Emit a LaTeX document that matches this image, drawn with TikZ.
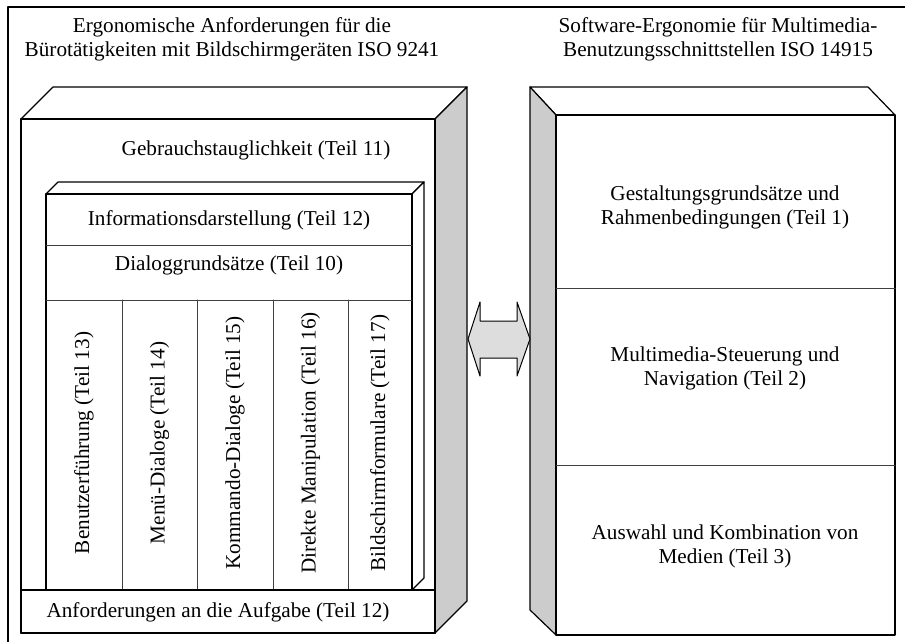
\documentclass[tikz,border=0pt]{standalone}
\usepackage{fontspec}
\setmainfont{Liberation Serif}
\usepackage{tikz}
\usetikzlibrary{arrows}

\definecolor{sidegray}{HTML}{CCCCCC}
\definecolor{arrowgray}{HTML}{DDDDDD}

\begin{document}
\begin{tikzpicture}[line cap=round,line join=round,x=0.5pt,y=-0.5pt,
  every node/.style={font=\fontsize{10.6}{12}\selectfont,inner sep=0pt},
  face/.style={draw=black,line width=0.6pt,fill=white},
  side/.style={draw=black,line width=0.6pt,fill=sidegray},
  sep/.style={draw=black!75,line width=0.5pt},
  title/.style={align=center},
  colt/.style={rotate=90}]
\useasboundingbox (0,0) rectangle (905,642);
\draw[line width=0.6pt] (8,642) -- (8,7) -- (905,7);
\node[title] (isotitle) at (232,39) {Ergonomische Anforderungen für die\\Bürotätigkeiten mit Bildschirmgeräten ISO 9241};
\node[title] (mmtitle) at (718,39) {Software-Ergonomie für Multimedia-\\Benutzungsschnittstellen ISO 14915};
\draw[face] (21,119) -- (53,87) -- (467,87) -- (435,119) -- cycle;
\draw[side] (435,119) -- (467,87) -- (467,601) -- (435,633) -- cycle;
\draw[face] (21,119) rectangle (435,633);
\node (gebrauch) at (256,150) {Gebrauchstauglichkeit (Teil 11)};
\draw[face] (46,194) -- (58,182) -- (424,182) -- (412,194) -- cycle;
\draw[face] (412,194) -- (424,182) -- (424,578) -- (412,590) -- cycle;
\draw[face] (46,194) rectangle (412,590);
\draw[sep] (46,245) -- (412,245);
\draw[sep] (46,300) -- (412,300);
\foreach \x in {122,197,273,348}
\draw[sep] (\x,300) -- (\x,590);
\node (info) at (229,220) {Informationsdarstellung (Teil 12)};
\node (dialog) at (229,265) {Dialoggrundsätze (Teil 10)};
\foreach \x/\t/\n in {84/Benutzerführung (Teil 13)/13,159.5/Menü-Dialoge (Teil 14)/14,235/Kommando-Dialoge (Teil 15)/15,310.5/Direkte Manipulation (Teil 16)/16,380/Bildschirmformulare (Teil 17)/17}
\node[colt] (teil\n) at (\x,443) {\t};
\draw[face] (21,590) rectangle (435,633);
\node (aufgabe) at (218,612) {Anforderungen an die Aufgabe (Teil 12)};
\draw[face] (530,87) -- (868,87) -- (895,115) -- (556,115) -- cycle;
\draw[side] (530,87) -- (556,115) -- (556,635) -- (530,610) -- cycle;
\draw[face] (556,115) rectangle (895,635);
\draw[sep] (556,288) -- (895,288);
\draw[sep] (556,465) -- (895,465);
\node[title] (gestaltung) at (725,207) {Gestaltungsgrundsätze und\\Rahmenbedingungen (Teil 1)};
\node[title] (steuerung) at (725,368) {Multimedia-Steuerung und\\Navigation (Teil 2)};
\node[title] (medien) at (725,546) {Auswahl und Kombination von\\Medien (Teil 3)};
\draw[line width=0.5pt,fill=arrowgray] (468,339) -- (480,302) -- (480,321) -- (517,321) -- (517,302) -- (530,339) -- (517,376) -- (517,358) -- (480,358) -- (480,376) -- cycle;
\end{tikzpicture}
\end{document}
